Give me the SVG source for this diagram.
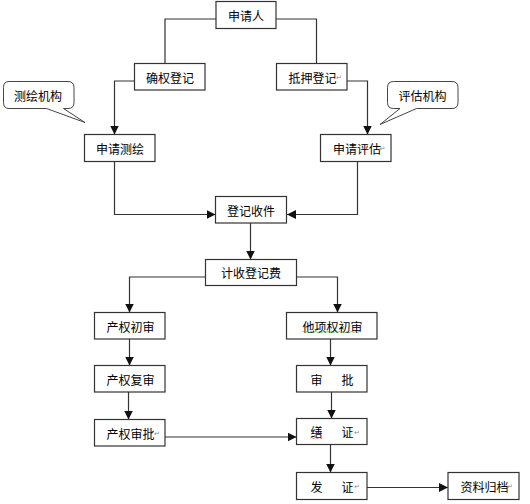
<svg xmlns="http://www.w3.org/2000/svg" width="530" height="504" viewBox="0 0 530 504">
<style>
.box{fill:#fff;stroke:#333;stroke-width:1.2}
.t{font-family:"Noto Sans CJK SC","Liberation Sans",sans-serif;font-size:12px;fill:#000;dominant-baseline:central}
.m{font-family:"DejaVu Sans",sans-serif;font-size:7px;fill:#888;dominant-baseline:central}
.c{fill:none;stroke:#333;stroke-width:1.2}
.call{fill:#fff;stroke:#444;stroke-width:1}
</style>
<defs>
<marker id="arr" markerUnits="userSpaceOnUse" markerWidth="9" markerHeight="9" refX="9" refY="4.5" orient="auto">
<path d="M0,0 L9,4.5 L0,9 Z" fill="#111"/>
</marker>
</defs>
<rect width="530" height="504" fill="#fff"/>
<g id="connectors">
<path class="c" d="M216,19 H165 V63.5"/>
<path class="c" d="M276,19 H316.5 V63.5"/>
<path class="c" d="M134.5,81 H114.5 V134.5" marker-end="url(#arr)"/>
<path class="c" d="M347,81 H367.5 V134.5" marker-end="url(#arr)"/>
<path class="c" d="M114.5,161.5 V214.5 H215.5" marker-end="url(#arr)"/>
<path class="c" d="M357.5,161.5 V214.5 H287" marker-end="url(#arr)"/>
<path class="c" d="M250.5,223 V259.5" marker-end="url(#arr)"/>
<path class="c" d="M205.5,277 H129.5 V312.5" marker-end="url(#arr)"/>
<path class="c" d="M296.5,277 H337.5 V312.5" marker-end="url(#arr)"/>
<path class="c" d="M129.5,339 V365.5" marker-end="url(#arr)"/>
<path class="c" d="M128.5,392 V419.5" marker-end="url(#arr)"/>
<path class="c" d="M330.5,339 V365.5" marker-end="url(#arr)"/>
<path class="c" d="M331.5,392 V418.5" marker-end="url(#arr)"/>
<path class="c" d="M165,437 H296.5" marker-end="url(#arr)"/>
<path class="c" d="M330.5,444.5 V472.5" marker-end="url(#arr)"/>
<path class="c" d="M367,487.5 H448" marker-end="url(#arr)"/>
</g>
<g id="callout-cehui">
<path class="call" d="M9,81.5 H68 Q74,81.5 74,87.5 V102.5 Q74,108.5 68,108.5 H63.5 L85,122.5 L46.5,108.5 H9 Q3.5,108.5 3.5,102.5 V87.5 Q3.5,81.5 9,81.5 Z"/>
<text class="t" x="14" y="95">测绘机构</text>
</g>
<g id="callout-pinggu">
<path class="call" d="M393.5,81.5 H452 Q458,81.5 458,87.5 V102.5 Q458,108.5 452,108.5 H416.5 L380,124.5 L400,108.5 H393.5 Q387.5,108.5 387.5,102.5 V87.5 Q387.5,81.5 393.5,81.5 Z"/>
<text class="t" x="398.5" y="95">评估机构</text>
</g>
<g id="n-shenqingren"><rect class="box" x="216" y="1.5" width="60" height="27"/><text class="t" x="246" y="15" text-anchor="middle">申请人</text></g>
<g id="n-quequan"><rect class="box" x="134.5" y="63.5" width="70.5" height="26.5"/><text class="t" x="170" y="77" text-anchor="middle">确权登记</text></g>
<g id="n-diya"><rect class="box" x="276.5" y="63.5" width="70.5" height="26.5"/><text class="t" x="288.5" y="77">抵押登记</text><text class="m" x="336" y="78">↵</text></g>
<g id="n-cehui"><rect class="box" x="84.5" y="134.5" width="70.5" height="27"/><text class="t" x="120" y="148" text-anchor="middle">申请测绘</text></g>
<g id="n-pinggu"><rect class="box" x="320.5" y="134.5" width="70.5" height="27"/><text class="t" x="333" y="148">申请评估</text><text class="m" x="379.5" y="149">↵</text></g>
<g id="n-shoujian"><rect class="box" x="215.5" y="196.5" width="71" height="26.5"/><text class="t" x="251" y="210" text-anchor="middle">登记收件</text></g>
<g id="n-jifei"><rect class="box" x="205.5" y="259.5" width="91" height="26"/><text class="t" x="251" y="272.5" text-anchor="middle">计收登记费</text></g>
<g id="n-chanquanchushen"><rect class="box" x="94.5" y="312.5" width="70.5" height="26.5"/><text class="t" x="106.5" y="326">产权初审</text></g>
<g id="n-taxiang"><rect class="box" x="286.5" y="312.5" width="90.5" height="26.5"/><text class="t" x="302.5" y="326">他项权初审</text><path d="M302.5,332 q1,-1 2,0 t2,0 t2,0 t2,0 t2,0 t2,0 t2,0 t2,0 t2,0 t2,0 t2,0 t2,0 t2,0 t2,0 t2,0 t2,0 t2,0 t2,0 t2,0 t2,0 t2,0 t2,0 t2,0 t2,0 t2,0 t2,0 t2,0 t2,0 t2,0" fill="none" stroke="#3a3" stroke-width="0.7"/></g>
<g id="n-fushen"><rect class="box" x="94.5" y="365.5" width="70.5" height="26.5"/><text class="t" x="106.5" y="379">产权复审</text></g>
<g id="n-shenpi"><rect class="box" x="296.5" y="365.5" width="70.5" height="26.5"/><text class="t" x="310.5" y="379">审</text><text class="t" x="341.5" y="379">批</text></g>
<g id="n-chanquanshenpi"><rect class="box" x="94.5" y="419.5" width="70.5" height="26.5"/><text class="t" x="106.5" y="433">产权审批</text><text class="m" x="154" y="434">↵</text></g>
<g id="n-shanzheng"><rect class="box" x="296.5" y="418.5" width="70.5" height="26"/><text class="t" x="310.5" y="431.5">缮</text><text class="t" x="341.5" y="431.5">证</text><text class="m" x="354" y="432.5">↵</text><path d="M310.5,438 q1,-1 2,0 t2,0 t2,0 t2,0 t2,0 t2,0" fill="none" stroke="#e33" stroke-width="0.7"/></g>
<g id="n-fazheng"><rect class="box" x="296.5" y="472.5" width="70.5" height="27"/><text class="t" x="310.5" y="486">发</text><text class="t" x="341.5" y="486">证</text><text class="m" x="354" y="487">↵</text></g>
<g id="n-guidang"><rect class="box" x="448" y="472.5" width="71" height="27"/><text class="t" x="460.5" y="486">资料归档</text><text class="m" x="507" y="487">↵</text></g>
</svg>
